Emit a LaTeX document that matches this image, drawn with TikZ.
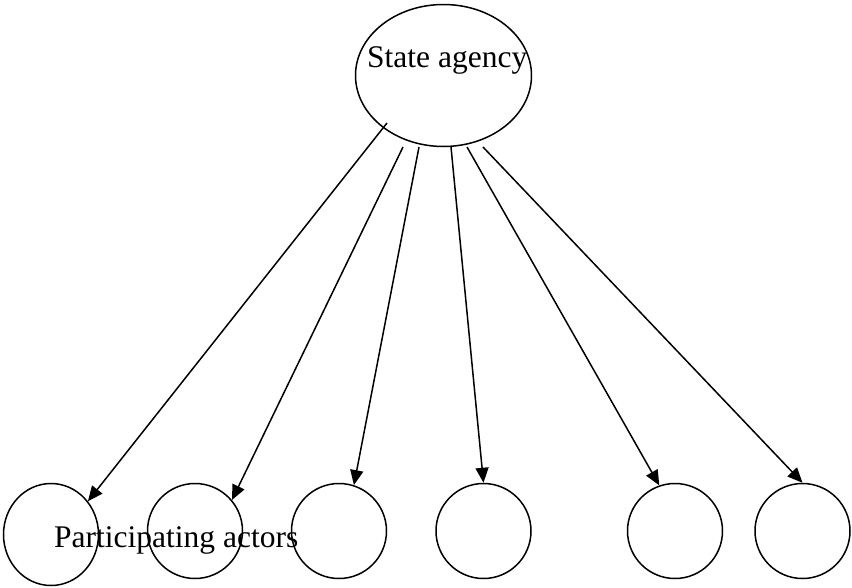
\documentclass[tikz,border=0pt]{standalone}
\usepackage{fontspec}
\setmainfont{Liberation Serif}
\usetikzlibrary{arrows.meta,shapes.geometric}
\begin{document}
\begin{tikzpicture}[x=1pt,y=-1pt,
  outline/.style={draw, line width=1.5pt, inner sep=0pt},
  actor/.style={outline, circle, minimum size=95pt},
  link/.style={line width=1.5pt, -{Triangle[length=15pt,width=13pt]}},
  caption/.style={font=\fontsize{31.5}{36}\selectfont, anchor=base west, inner sep=0pt}]
\useasboundingbox (0,0) rectangle (852,587);

% central agency
\node[outline, ellipse, minimum width=176pt, minimum height=142pt] (agency) at (443.5,75.5) {};
\node[caption] (agencytext) at (367,67) {State agency};

% participating actors
\node[outline, ellipse, minimum width=95pt, minimum height=102pt] (c1) at (51,534.5) {};
\node[actor] (c2) at (195,531) {};
\node[actor] (c3) at (339,531) {};
\node[actor] (c4) at (483.5,531) {};
\node[actor] (c5) at (675,531) {};
\node[actor] (c6) at (802.5,531) {};
\node[caption] (actorstext) at (54,547) {Participating actors};

% start points of the links under the agency
\coordinate (s1) at (387,123);
\coordinate (s2) at (403,147);
\coordinate (s3) at (419,147);
\coordinate (s4) at (451,147);
\coordinate (s5) at (467,147);
\coordinate (s6) at (483,147);

\draw[link] (s1) -- (c1.42);
\draw[link] (s2) -- (c2.40);
\draw[link] (s3) -- (c3.72);
\draw[link] (s4) -- (c4.90);
\draw[link] (s5) -- (c5.109);
\draw[link] (s6) -- (c6.90);
\end{tikzpicture}
\end{document}
